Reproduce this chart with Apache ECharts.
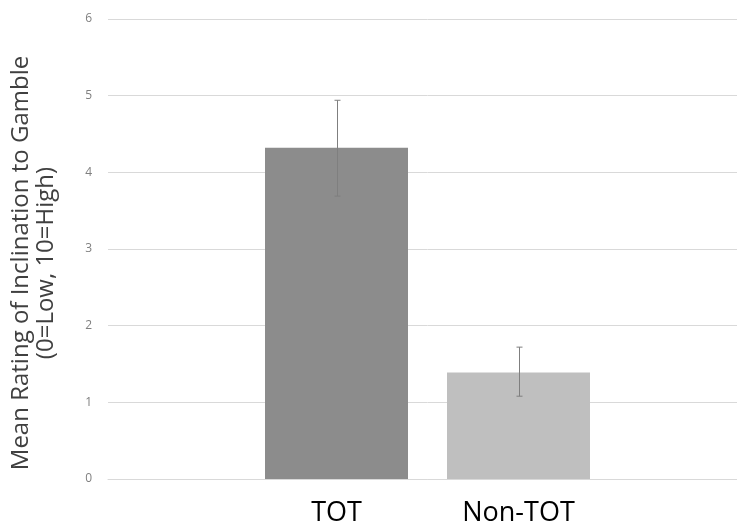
<!DOCTYPE html>
<html><head><meta charset="utf-8">
<script src="https://cdn.jsdelivr.net/npm/echarts@6/dist/echarts.min.js"></script>
<style>html,body{margin:0;padding:0;background:#fff;overflow:hidden;width:737px;height:526px}#c{width:747px;height:526px}</style>
</head><body><div id="c"></div>
<script>
var categories = ['TOT', 'Non-TOT'];
var means = [4.32, 1.39];
var errLow = [3.69, 1.08];
var errHigh = [4.94, 1.72];
var yTicks = [0, 1, 2, 3, 4, 5, 6];
var barColors = ['#8c8c8c', '#bfbfbf'];

var BAR_W = 143, GAP = 39;
var chart = echarts.init(document.getElementById('c'));
var series = categories.map(function (name, i) {
  return {
    name: name, type: 'bar', data: [means[i]], barWidth: BAR_W, barGap: (GAP / BAR_W * 100) + '%',
    itemStyle: { color: barColors[i] },
    label: { show: true, position: 'insideBottom', distance: 0, offset: [0, 48], formatter: name,
      color: '#000', fontFamily: 'Open Sans', fontSize: 27 },
    z: 2
  };
});
series.push({
  type: 'custom', z: 5,
  data: categories.map(function (c, i) { return [i, errLow[i], errHigh[i]]; }),
  renderItem: function (params, api) {
    var i = api.value(0);
    var off = (i - (categories.length - 1) / 2) * (BAR_W + GAP);
    var lo = api.coord([0, api.value(1)]);
    var hi = api.coord([0, api.value(2)]);
    var x = Math.round(lo[0] + off) + 0.5;
    var st = { stroke: '#7f7f7f', lineWidth: 1 };
    return { type: 'group', children: [
      { type: 'line', shape: { x1: x, y1: hi[1], x2: x, y2: lo[1] }, style: st },
      { type: 'line', shape: { x1: x - 3, y1: hi[1], x2: x + 3, y2: hi[1] }, style: st },
      { type: 'line', shape: { x1: x - 3, y1: lo[1], x2: x + 3, y2: lo[1] }, style: st }
    ]};
  }
});
chart.setOption({
  animation: false,
  grid: { left: 108, right: 0, top: 19, bottom: 47, containLabel: false },
  xAxis: { type: 'category', data: [''], axisLine: { show: true, lineStyle: { color: '#d9d9d9' } },
    axisTick: { show: false }, axisLabel: { show: false } },
  yAxis: { type: 'value', min: yTicks[0], max: yTicks[yTicks.length - 1], interval: 1,
    axisLine: { show: false }, axisTick: { show: false },
    splitLine: { lineStyle: { color: '#d9d9d9' } },
    axisLabel: { color: '#7f7f7f', fontFamily: 'Open Sans', fontSize: 12, margin: 16 } },
  graphic: [{ type: 'text', x: 34, y: 263, rotation: Math.PI / 2,
    style: { text: 'Mean Rating of Inclination to Gamble\n(0=Low, 10=High)', fontFamily: 'Open Sans', fontSize: 24,
      fill: '#404040', align: 'center', verticalAlign: 'middle', lineHeight: 25 } }],
  series: series
});
</script></body></html>
